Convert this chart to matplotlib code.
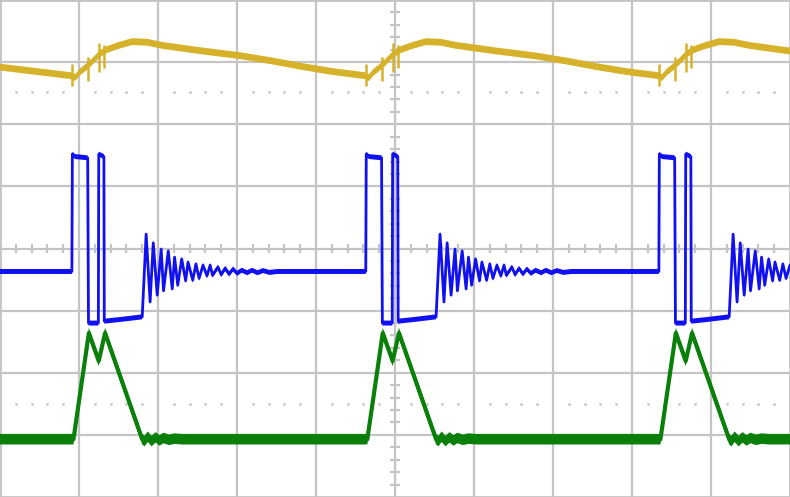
import numpy as np
import matplotlib
matplotlib.use('Agg')
import matplotlib.pyplot as plt

# scope screen is 10 x 8 divisions, all values below are in divisions
cycle_start = [0.91, 4.63, 8.34]   # time of each switching event

# CH1 (yellow) - one period, time relative to cycle start
ch1_t = [0.00, 0.04, 0.10, 0.18, 0.25, 0.35, 0.44, 0.57, 0.76, 0.95, 1.14,
         1.65, 2.15, 2.53, 2.91, 3.29, 3.72]
ch1_v = [2.78, 2.75, 2.84, 2.92, 3.00, 3.13, 3.20, 3.26, 3.33, 3.32, 3.27,
         3.18, 3.10, 3.02, 2.93, 2.85, 2.78]
ch1_first = 2.92
ch1_spike_t = [0.00, 0.20, 0.34, 0.41]
ch1_spike_hi = [2.97, 3.08, 3.31, 3.28]
ch1_spike_lo = [2.62, 2.70, 2.84, 2.90]

# CH2 (blue)
ch2_t = [0.000, 0.006, 0.04, 0.20, 0.21, 0.335, 0.34, 0.405, 0.41, 0.63, 0.89,
         0.94, 0.99, 1.03, 1.08, 1.13, 1.16, 1.22, 1.27, 1.30, 1.34, 1.39, 1.44,
         1.47, 1.53, 1.57, 1.61, 1.66, 1.71, 1.75, 1.78, 1.85, 1.89, 1.94, 1.99,
         2.04, 2.09, 2.15, 2.22, 2.28, 2.35, 2.42, 2.50, 2.60]
ch2_v = [-0.37, 1.52, 1.48, 1.46, -1.20, -1.20, 1.52, 1.48, -1.17, -1.14, -1.10,
         0.23, -0.86, 0.09, -0.75, -0.01, -0.68, -0.04, -0.65, -0.14, -0.59, -0.17,
         -0.52, -0.22, -0.51, -0.25, -0.48, -0.27, -0.44, -0.27, -0.43, -0.30,
         -0.42, -0.32, -0.41, -0.33, -0.40, -0.35, -0.39, -0.35, -0.39, -0.355,
         -0.385, -0.37]
ch2_base = -0.37

# CH3 (green)
ch3_t = [0.00, 0.02, 0.215, 0.34, 0.42, 0.89, 0.92, 0.96, 1.01, 1.06, 1.11,
         1.16, 1.23, 1.30, 1.39]
ch3_v = [-3.07, -3.07, -1.36, -1.81, -1.36, -3.07, -3.10, -3.03, -3.10, -3.04,
         -3.09, -3.05, -3.08, -3.06, -3.07]
ch3_base = -3.07

ground_marks = [2.52, -2.50]

grid_c = '#c4c4c4'
dot_c = '#cfcfcf'


def tile(t, v, first, last):
    xs = [0.0]
    ys = [first]
    for s in cycle_start:
        xs += [s + a for a in t]
        ys += list(v)
    xs.append(12.5)
    ys.append(last)
    return np.array(xs), np.array(ys)


fig = plt.figure(figsize=(7.9, 4.97), dpi=100)
ax = fig.add_axes([0, 0, 1, 1])
ax.set_xlim(0, 10)
ax.set_ylim(-4, 4)
ax.set_xticks([])
ax.set_yticks([])
for sp in ax.spines.values():
    sp.set_color(grid_c)
    sp.set_linewidth(2)

# graticule
for i in range(1, 10):
    ax.axvline(i, color=grid_c, lw=1.6, zorder=1)
for j in range(-3, 4):
    ax.axhline(j, color=grid_c, lw=1.6, zorder=1)

minor_x = [k * 0.2 for k in range(1, 50) if k % 5]
minor_y = [k * 0.2 for k in range(-19, 20) if k % 5]
ax.vlines(minor_x, -0.075, 0.075, color=grid_c, lw=1.6, zorder=1)
ax.hlines(minor_y, 4.935, 5.065, color=grid_c, lw=1.6, zorder=1)
for g in ground_marks:
    ax.plot(minor_x, [g] * len(minor_x), ls='none', marker='o', ms=2.2,
            mec='none', color=dot_c, zorder=1)

# traces
x3, y3 = tile(ch3_t, ch3_v, ch3_base, ch3_base)
ax.fill_between(x3, y3 - 0.085, y3 + 0.085, color='#0a800a', lw=0, zorder=3)
ax.plot(x3, y3, color='#0a800a', lw=3.0, zorder=3)

x2, y2 = tile(ch2_t, ch2_v, ch2_base, ch2_base)
ax.fill_between(x2, y2 - 0.04, y2 + 0.04, color='#1010f0', lw=0, zorder=4)
ax.plot(x2, y2, color='#1010f0', lw=2.0, zorder=4)

x1, y1 = tile(ch1_t, ch1_v, ch1_first, ch1_v[-1])
ax.fill_between(x1, y1 - 0.055, y1 + 0.055, color='#d6b12a', lw=0, zorder=5)
ax.plot(x1, y1, color='#d6b12a', lw=2.2, zorder=5)
for s in cycle_start:
    ax.vlines([s + a for a in ch1_spike_t], ch1_spike_lo, ch1_spike_hi,
              color='#d6b12a', lw=1.8, zorder=5)

fig.savefig('out.png', dpi=100)
